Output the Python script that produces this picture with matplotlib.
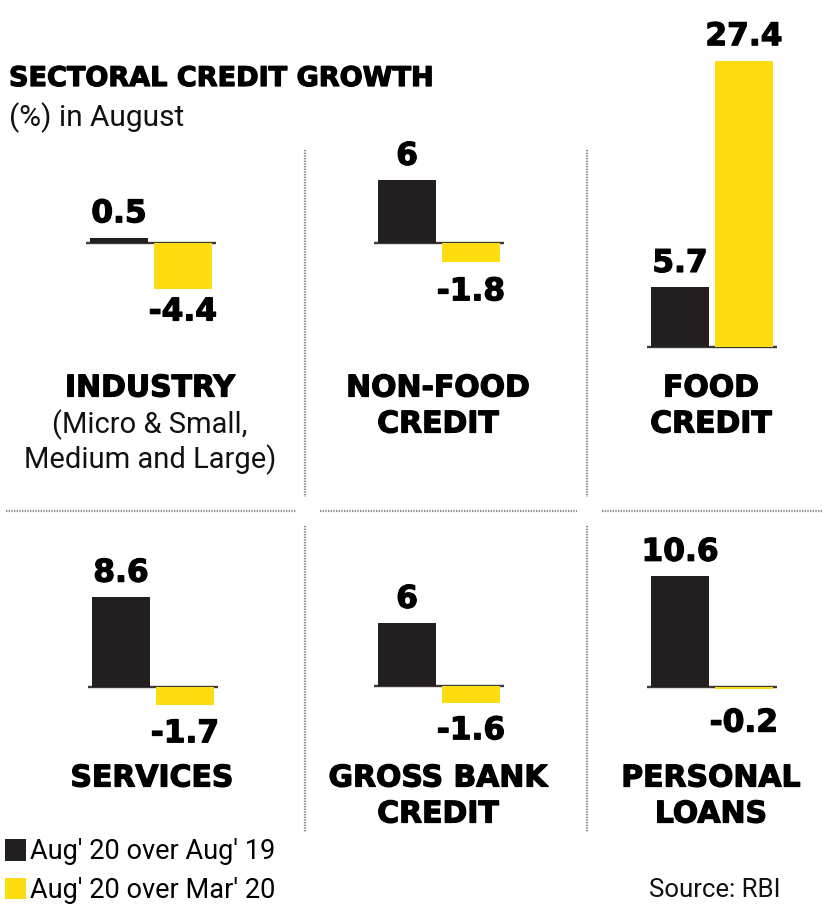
import matplotlib
matplotlib.use("Agg")
import matplotlib.pyplot as plt
from matplotlib.lines import Line2D
from matplotlib.patches import Patch
import matplotlib.patheffects as pe

# ---- data -------------------------------------------------------------
categories = ["INDUSTRY", "NON-FOOD\nCREDIT", "FOOD\nCREDIT",
              "SERVICES", "GROSS BANK\nCREDIT", "PERSONAL\nLOANS"]
subtitles = ["(Micro & Small,\nMedium and Large)", "", "", "", "", ""]
growth_vs_aug19 = [0.5, 6, 5.7, 8.6, 6, 10.6]
growth_vs_mar20 = [-4.4, -1.8, 27.4, -1.7, -1.6, -0.2]
series_labels = ["Aug' 20 over Aug' 19", "Aug' 20 over Mar' 20"]

# ---- style ------------------------------------------------------------
W, H = 822, 905
BLACK = "#231f20"
YELLOW = "#fedd10"
RULE = "#8a8a8a"
THICK = [pe.withStroke(linewidth=0.9, foreground="black")]
HEAVY = dict(family=["DejaVu Sans"], weight="bold", path_effects=THICK)
REGULAR = dict(family=["Roboto", "DejaVu Sans"], weight="normal")
NARROW = dict(family=["Roboto", "DejaVu Sans"])
SCALE = 10.45  # pixels per percentage point

fig = plt.figure(figsize=(W / 100, H / 100), dpi=100)
fig.patch.set_facecolor("white")


def fx(px):
    return px / W


def fy(py):
    return 1 - py / H


# panel layout: left edge of bar pair, baseline, panel top/bottom (pixels)
panel_left = [90, 378, 651, 92, 378, 651]
panel_base = [243, 243, 347, 687, 686, 687]
panel_top = [0, 0, 0, 520, 520, 520]
panel_bot = [370, 370, 370, 745, 745, 745]
neg_offset = [23, 30, 0, 29, 28, 34]
label_y = [388, 388, 388, 778, 778, 778]

UNIT = 64.0  # pixels between the two bar centres
for i in range(6):
    left = panel_left[i] + 29 - 0.6 * UNIT
    width = 2.2 * UNIT
    top, bot, base = panel_top[i], panel_bot[i], panel_base[i]
    ax = fig.add_axes([fx(left), fy(bot), width / W, (bot - top) / H])
    ax.set_xlim(-0.6, 1.6)
    ax.set_ylim(-(bot - base) / SCALE, (base - top) / SCALE)
    ax.axis("off")

    vals = [growth_vs_aug19[i], growth_vs_mar20[i]]
    ax.bar([0, 1], vals, width=58 / UNIT, color=[BLACK, YELLOW], zorder=2)
    ax.hlines(0, -0.52, 1.52, color="#3a3a3a", lw=1.7, zorder=1)

    for x, v in zip([0, 1], vals):
        dy = 24 if v >= 0 else -neg_offset[i]
        ax.annotate(f"{v:g}", xy=(x, v), xytext=(0, dy),
                    textcoords="offset pixels", ha="center", va="center",
                    fontsize=22.5, color="black", annotation_clip=False,
                    **HEAVY)

    # category name under the bars
    cx = panel_left[i] + 60
    lines = categories[i].split("\n")
    for k, line in enumerate(lines):
        fig.text(fx(cx), fy(label_y[i] + 36 * k), line, ha="center",
                 va="center", fontsize=21.5, color="black", **HEAVY)
    if subtitles[i]:
        for k, line in enumerate(subtitles[i].split("\n")):
            fig.text(fx(cx), fy(label_y[i] + 37 + 35 * k), line,
                     ha="center", va="center", fontsize=21,
                     color="#111111", **REGULAR)

# ---- dotted separators ------------------------------------------------
def rule(x0, y0, x1, y1):
    fig.add_artist(Line2D([fx(x0), fx(x1)], [fy(y0), fy(y1)],
                          transform=fig.transFigure, color=RULE, lw=1.6,
                          linestyle=(0, (0.6, 0.6))))


for xv in (305, 587):
    rule(xv, 150, xv, 497)
    rule(xv, 526, xv, 832)
for x0, x1 in ((6, 296), (320, 577), (602, 822)):
    rule(x0, 511, x1, 511)

# ---- titles -----------------------------------------------------------
fig.text(fx(9), fy(79), "SECTORAL CREDIT GROWTH", ha="left", va="center",
         fontsize=19.5, color="black", **HEAVY)
fig.text(fx(9), fy(118), "(%) in August", ha="left", va="center",
         fontsize=21.5, color="#111111", **REGULAR)
fig.text(fx(780), fy(890), "Source: RBI", ha="right", va="center",
         fontsize=18.5, color="#111111", **REGULAR)

# ---- legend -----------------------------------------------------------
handles = [Patch(facecolor=BLACK, edgecolor="none"),
           Patch(facecolor=YELLOW, edgecolor="none")]
leg = fig.legend(handles, series_labels, loc="upper left",
                 bbox_to_anchor=(fx(0), fy(833)), frameon=False,
                 prop=dict(size=19.5, **NARROW), handlelength=0.77,
                 handleheight=0.82, handletextpad=0.12, labelspacing=0.42,
                 borderaxespad=0, borderpad=0.2)

fig.savefig("out.png", dpi=100, facecolor="white")
